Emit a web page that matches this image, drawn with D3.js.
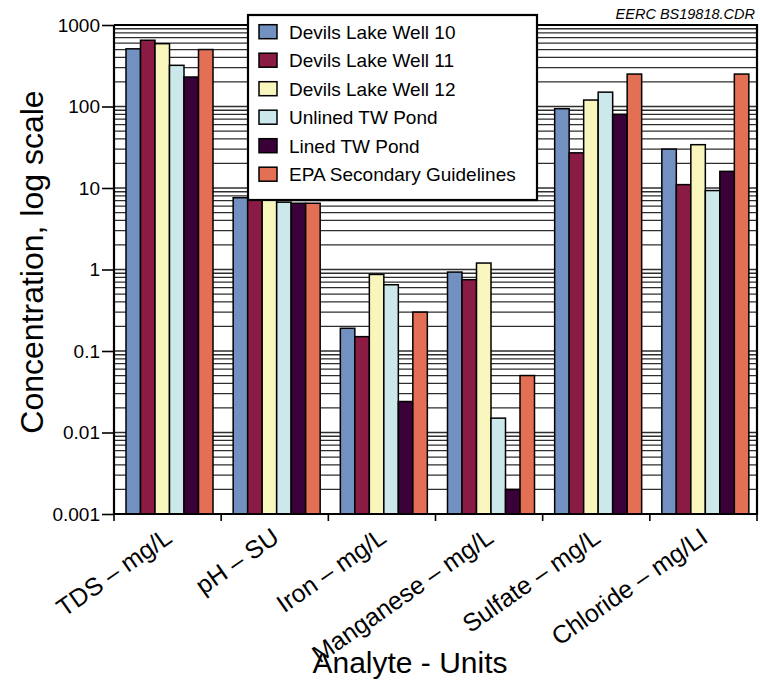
<!DOCTYPE html>
<html>
<head>
<meta charset="utf-8">
<script src="https://cdn.jsdelivr.net/npm/d3@7"></script>
<style>
  html, body { margin: 0; padding: 0; background: #fff; }
  svg { display: block; font-family: "Liberation Sans", Arial, Helvetica, sans-serif; }
</style>
</head>
<body>
<svg id="chart" width="760" height="682"></svg>
<script>
// Analytes on the x axis
const categories = ["TDS – mg/L", "pH – SU", "Iron – mg/L", "Manganese – mg/L", "Sulfate – mg/L", "Chloride – mg/LI"];

// Series names (legend order)
const seriesNames = ["Devils Lake Well 10", "Devils Lake Well 11", "Devils Lake Well 12", "Unlined TW Pond", "Lined TW Pond", "EPA Secondary Guidelines"];

// Concentrations per analyte, one array per series
const well10  = [510, 7.6, 0.19, 0.93, 94, 30];
const well11  = [650, 7.6, 0.15, 0.75, 27, 11];
const well12  = [590, 7.6, 0.87, 1.2, 120, 34];
const unlined = [320, 6.7, 0.65, 0.015, 150, 9.3];
const lined   = [230, 6.5, 0.024, 0.002, 80, 16];
const epa     = [500, 6.5, 0.3, 0.05, 250, 250];

// Y tick labels
const yTickValues = [0.001, 0.01, 0.1, 1, 10, 100, 1000];
const yTickLabels = ["0.001", "0.01", "0.1", "1", "10", "100", "1000"];

const seriesValues = [well10, well11, well12, unlined, lined, epa];
const colors = ["#7291c0", "#8a1b45", "#f8f5bd", "#cde8ea", "#3a0038", "#e36f55"];

const svg = d3.select("#chart");
const plot = { left: 114, right: 757, top: 25, bottom: 514 };

const y = d3.scaleLog().domain([0.001, 1000]).range([plot.bottom, plot.top]);
const x = d3.scaleBand().domain(categories).range([plot.left, plot.right]);
const xs = d3.scaleBand().domain(seriesNames).range([12, 99]);

// Grid lines at every 1..9 step of each decade
const gridVals = [];
for (let e = -3; e < 3; e++) {
  for (let m = 1; m <= 9; m++) gridVals.push(m * Math.pow(10, e));
}
gridVals.push(1000);

svg.append("g")
  .selectAll("line")
  .data(gridVals)
  .join("line")
  .attr("x1", plot.left)
  .attr("x2", plot.right)
  .attr("y1", d => y(d))
  .attr("y2", d => y(d))
  .attr("stroke", "#2e2e2e")
  .attr("stroke-width", 1.3);

// Bars
const rows = [];
categories.forEach((c, ci) => {
  seriesNames.forEach((s, si) => rows.push({ c, s, si, v: seriesValues[si][ci] }));
});

svg.append("g")
  .selectAll("rect")
  .data(rows)
  .join("rect")
  .attr("x", d => x(d.c) + xs(d.s))
  .attr("width", xs.bandwidth())
  .attr("y", d => y(d.v))
  .attr("height", d => plot.bottom - y(d.v))
  .attr("fill", d => colors[d.si])
  .attr("stroke", "#000")
  .attr("stroke-width", 1.5);

// Y axis
const yAxis = d3.axisLeft(y)
  .tickValues(yTickValues)
  .tickFormat((d, i) => yTickLabels[i])
  .tickSize(12)
  .tickPadding(2);

const gy = svg.append("g")
  .attr("transform", `translate(${plot.left},0)`)
  .call(yAxis);
gy.select(".domain").remove();
gy.selectAll(".tick line").attr("stroke", "#000").attr("stroke-width", 1.6);
gy.selectAll(".tick text")
  .attr("font-size", 19)
  .attr("fill", "#000")
  .attr("font-family", "Liberation Sans, Arial, sans-serif");

// X axis: ticks at group boundaries
const boundaries = categories.map(c => x(c)).concat([plot.right]);
svg.append("g")
  .selectAll("line")
  .data(boundaries)
  .join("line")
  .attr("x1", d => d).attr("x2", d => d)
  .attr("y1", plot.bottom).attr("y2", plot.bottom + 7)
  .attr("stroke", "#000").attr("stroke-width", 1.6);

svg.append("g")
  .selectAll("text")
  .data(categories)
  .join("text")
  .attr("transform", d => `translate(${x(d) + x.bandwidth() / 2 + 6},${plot.bottom + 27}) rotate(-35)`)
  .attr("text-anchor", "end")
  .attr("font-size", 25)
  .attr("fill", "#000")
  .text(d => d);

// Frame
const frame = svg.append("g").attr("stroke", "#000").attr("fill", "none");
frame.append("line").attr("x1", plot.left).attr("x2", plot.left).attr("y1", plot.top).attr("y2", plot.bottom + 1).attr("stroke-width", 2.2);
frame.append("line").attr("x1", plot.left).attr("x2", plot.right).attr("y1", plot.bottom).attr("y2", plot.bottom).attr("stroke-width", 2.2);
frame.append("line").attr("x1", plot.right).attr("x2", plot.right).attr("y1", plot.top - 1).attr("y2", plot.bottom + 1).attr("stroke-width", 2.2);
frame.append("line").attr("x1", plot.left).attr("x2", plot.right).attr("y1", plot.top).attr("y2", plot.top).attr("stroke-width", 2);

// Legend
const legend = svg.append("g").attr("transform", "translate(248,15)");
legend.append("rect")
  .attr("width", 289).attr("height", 185)
  .attr("fill", "#fff").attr("stroke", "#000").attr("stroke-width", 2.2);
const items = legend.selectAll("g.item")
  .data(seriesNames)
  .join("g")
  .attr("class", "item")
  .attr("transform", (d, i) => `translate(0,${16.7 + i * 28.5})`);
items.append("rect")
  .attr("x", 11).attr("y", -7)
  .attr("width", 18).attr("height", 14)
  .attr("fill", (d, i) => colors[i])
  .attr("stroke", "#000").attr("stroke-width", 1.5);
items.append("text")
  .attr("x", 41).attr("y", 7)
  .attr("font-size", 19)
  .attr("fill", "#000")
  .text(d => d);

// Axis titles
svg.append("text")
  .attr("transform", "translate(43,262) rotate(-90)")
  .attr("text-anchor", "middle")
  .attr("font-size", 32)
  .attr("fill", "#000")
  .text("Concentration, log scale");

svg.append("text")
  .attr("x", 410).attr("y", 673)
  .attr("text-anchor", "middle")
  .attr("font-size", 30)
  .attr("fill", "#000")
  .text("Analyte - Units");

// File tag
svg.append("text")
  .attr("x", 755).attr("y", 19)
  .attr("text-anchor", "end")
  .attr("font-size", 14.5)
  .attr("font-style", "italic")
  .attr("fill", "#000")
  .text("EERC BS19818.CDR");
</script>
</body>
</html>
